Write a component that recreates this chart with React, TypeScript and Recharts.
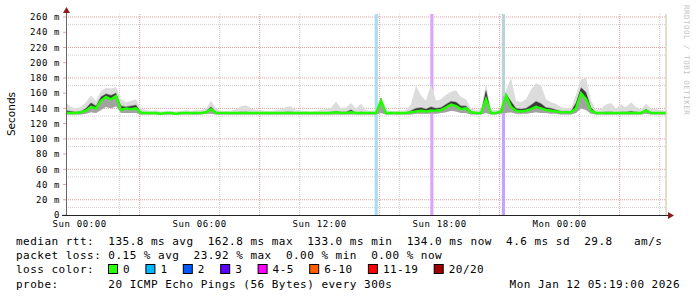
import {
  ComposedChart,
  Area,
  Line,
  XAxis,
  YAxis,
  CartesianGrid,
  ReferenceArea,
  ReferenceLine,
} from "recharts";

// time axis: hours relative to Sun 00:00, one sample every 15 min
const START_HOUR = -0.683;
const STEP_HOURS = 0.25;

const medianRtt = [
  134, 134, 134, 135, 137, 142, 140, 150, 155, 152, 156, 138, 140, 139, 140, 134, 134, 134, 134, 133,
  134, 134, 133, 134, 134, 134, 134, 134, 135, 139, 134, 134, 134, 134, 134, 134, 134, 134, 134, 134,
  134, 134, 134, 134, 134, 134, 134, 134, 134, 134, 134, 134, 134, 134, 135, 134, 134, 135, 134, 134,
  134, 134, 134, 150, 134, 134, 134, 134, 134, 135, 136, 137, 136, 137, 137, 138, 141, 145, 143, 139,
  140, 135, 134, 134, 152, 134, 134, 136, 157, 142, 137, 136, 137, 139, 142, 140, 138, 137, 136, 135,
  135, 135, 140, 160, 152, 137, 134, 134, 134, 134, 134, 134, 134, 134, 134, 134, 137, 134, 134, 134,
  134,
];

const pingMax = [
  148, 142, 140, 142, 148, 157, 150, 163, 167, 166, 168, 152, 148, 150, 152, 140, 138, 137, 138, 136,
  137, 137, 136, 137, 138, 137, 138, 138, 140, 150, 140, 137, 137, 137, 139, 143, 144, 140, 138, 138,
  137, 137, 138, 139, 142, 143, 138, 137, 137, 136, 137, 138, 139, 141, 149, 140, 141, 147, 140, 146,
  138, 137, 138, 156, 138, 137, 137, 137, 138, 145, 170, 157, 150, 172, 150, 152, 158, 162, 164, 155,
  152, 140, 138, 139, 172, 138, 138, 140, 164, 180, 150, 148, 152, 165, 173, 170, 152, 148, 146, 142,
  140, 140, 158, 178, 180, 150, 138, 140, 145, 147, 140, 145, 142, 148, 142, 139, 146, 140, 139, 138,
  137,
];

const pingUpper = [
  138, 137, 136, 137, 141, 148, 144, 156, 160, 158, 161, 144, 143, 144, 145, 136, 135, 135, 135, 134,
  135, 135, 134, 135, 135, 135, 135, 135, 137, 143, 136, 135, 135, 135, 135, 136, 136, 135, 135, 135,
  135, 135, 135, 135, 136, 136, 135, 135, 135, 135, 135, 135, 135, 136, 137, 136, 136, 139, 135, 136,
  135, 135, 135, 154, 135, 135, 135, 135, 135, 138, 141, 142, 140, 143, 141, 142, 146, 150, 149, 144,
  144, 137, 135, 135, 165, 135, 135, 138, 160, 150, 141, 140, 141, 145, 150, 147, 142, 141, 139, 137,
  137, 137, 148, 168, 162, 142, 135, 135, 136, 136, 135, 136, 136, 137, 136, 135, 140, 135, 135, 135,
  135,
];

const pingMin = [
  132, 132, 132, 132, 133, 135, 134, 138, 142, 140, 143, 134, 134, 134, 134, 132, 132, 132, 132, 132,
  132, 132, 132, 132, 132, 132, 132, 132, 133, 133, 132, 132, 132, 132, 132, 132, 132, 132, 132, 132,
  132, 132, 132, 132, 132, 132, 132, 132, 132, 132, 132, 132, 132, 132, 132, 132, 132, 132, 132, 132,
  132, 132, 132, 134, 132, 132, 132, 132, 132, 132, 133, 133, 133, 133, 133, 134, 135, 137, 136, 134,
  134, 132, 132, 132, 134, 132, 132, 133, 134, 135, 133, 133, 133, 134, 135, 134, 134, 133, 133, 132,
  132, 132, 134, 140, 138, 133, 132, 132, 132, 132, 132, 132, 132, 132, 132, 132, 133, 132, 132, 132,
  132,
];

// loss events (hour, lost pings out of 20, value range in ms)
const lossEvents = [
  { hour: 14.75, lost: 1, from: 0, to: 264 },
  { hour: 17.53, lost: 4, from: 0, to: 264 },
  { hour: 21.11, lost: 2, from: 157, to: 264 },
  { hour: 21.11, lost: 3, from: 0, to: 157 },
];

const yTicks = [0, 20, 40, 60, 80, 100, 120, 140, 160, 180, 200, 220, 240, 260];
const yMinorLines = [10, 30, 50, 70, 90, 110, 130, 150, 170, 190, 210, 230, 250];
const xLabelHours = [0, 6, 12, 18, 24];
const xMajorLines = [0, 3, 6, 9, 12, 15, 18, 21, 24, 27];
const xMinorLines = [
  1, 2, 4, 5, 7, 8, 10, 11, 13, 14, 16, 17, 19, 20, 22, 23, 25, 26, 28, 29,
];

const statsLines = [
  "median rtt:  135.8 ms avg  162.8 ms max  133.0 ms min  134.0 ms now  4.6 ms sd  29.8   am/s",
  "packet loss: 0.15 % avg  23.92 % max  0.00 % min  0.00 % now",
];
const lossLegend = ["0", "1", "2", "3", "4-5", "6-10", "11-19", "20/20"];
const lossColors = ["#26ff00", "#00b8ff", "#0059ff", "#5e00ff", "#ff00ff", "#ff5e00", "#ff0000", "#a00000"];
const lossBgByCount: Record<number, string> = {
  1: "#a8def3",
  2: "#bcd2d9",
  3: "#c3a6fb",
  4: "#dba6f7",
};
const probeText = "probe:       20 ICMP Echo Pings (56 Bytes) every 300s";
const stampText = "Mon Jan 12 05:19:00 2026";

const END_HOUR = START_HOUR + STEP_HOURS * (medianRtt.length - 1);

const data = medianRtt.map((m, i) => ({
  t: START_HOUR + i * STEP_HOURS,
  median: m,
  outer: [pingMin[i], pingMax[i]],
  inner: [pingMin[i], pingUpper[i]],
  core: [Math.min(m, pingUpper[i]) - 1, Math.max(m, pingUpper[i] - 1)],
}));

const MONO = "'DejaVu Sans Mono', monospace";

function hourLabel(h: number) {
  const day = h < 24 ? "Sun" : "Mon";
  const hh = String(h % 24).padStart(2, "0");
  return `${day} ${hh}:00`;
}

function Legend() {
  const cw = 7.1;
  let x = 108;
  const items = lossLegend.map((label, i) => {
    const sx = x;
    x = sx + 15 + label.length * cw + 15.3;
    return (
      <g key={label}>
        <rect x={sx + 0.5} y={264.5} width={9} height={9} fill={lossColors[i]} stroke="#000" />
        <text x={sx + 15} y={273} style={{ whiteSpace: "pre" }}>
          {label}
        </text>
      </g>
    );
  });
  return (
    <g fontFamily={MONO} fontSize={11} letterSpacing={0.48} fill="#000">
      <text x={16} y={245} style={{ whiteSpace: "pre" }}>{statsLines[0]}</text>
      <text x={16} y={259} style={{ whiteSpace: "pre" }}>{statsLines[1]}</text>
      <text x={16} y={273} style={{ whiteSpace: "pre" }}>loss color:</text>
      {items}
      <text x={16} y={288} style={{ whiteSpace: "pre" }}>{probeText}</text>
      <text x={680} y={288} textAnchor="end" style={{ whiteSpace: "pre" }}>{stampText}</text>
    </g>
  );
}

export default function App() {
  return (
    <div style={{ position: "relative", width: 697, height: 297, background: "#fff" }}>
      <style>{`body{margin:0}`}</style>
      <ComposedChart
        width={697}
        height={297}
        data={data}
        margin={{ top: 14, right: 31, bottom: 62, left: 0 }}
        style={{ position: "absolute", left: 0, top: 0 }}
      >
        <CartesianGrid
          horizontalValues={yMinorLines}
          verticalValues={xMinorLines}
          stroke="#cfcfcf"
          strokeDasharray="1 1"
        />
        <CartesianGrid
          horizontalValues={yTicks}
          verticalValues={xMajorLines}
          stroke="#dfa3a3"
          strokeDasharray="1 1"
        />
        <XAxis
          dataKey="t"
          type="number"
          domain={[START_HOUR, END_HOUR]}
          ticks={xLabelHours}
          tickFormatter={hourLabel}
          height={20}
          axisLine={false}
          tickLine={false}
          tickSize={0}
          tickMargin={6}
          tick={{ fontFamily: MONO, fontSize: 9, letterSpacing: 0.6, fill: "#000" }}
          allowDataOverflow
        />
        <YAxis
          type="number"
          domain={[0, 264]}
          ticks={yTicks}
          tickFormatter={(v: number) => (v === 0 ? "0" : `${v} m`)}
          width={66}
          axisLine={false}
          tickLine={{ stroke: "#dfa3a3" }}
          tickSize={3}
          tickMargin={3}
          tick={{ fontFamily: MONO, fontSize: 9, letterSpacing: 0.6, fill: "#000" }}
          allowDataOverflow
        />
        {lossEvents.map((e, i) => (
          <ReferenceArea
            key={i}
            x1={e.hour}
            x2={e.hour + 0.16}
            y1={e.from}
            y2={e.to}
            fill={lossBgByCount[e.lost]}
            fillOpacity={1}
            stroke="none"
            ifOverflow="hidden"
          />
        ))}
        <Area
          dataKey="outer"
          type="linear"
          stroke="none"
          fill="#dcdcdc"
          fillOpacity={1}
          isAnimationActive={false}
          dot={false}
          activeDot={false}
        />
        <Area
          dataKey="inner"
          type="linear"
          stroke="none"
          fill="#a2a2a2"
          fillOpacity={1}
          isAnimationActive={false}
          dot={false}
          activeDot={false}
        />
        <Area
          dataKey="core"
          type="linear"
          stroke="none"
          fill="#3a3a3a"
          fillOpacity={1}
          isAnimationActive={false}
          dot={false}
          activeDot={false}
        />
        <Line
          dataKey="median"
          type="linear"
          stroke="#22ff00"
          strokeWidth={2.5}
          dot={false}
          activeDot={false}
          isAnimationActive={false}
        />
        <ReferenceLine x={END_HOUR} stroke="#c9b99a" />
      </ComposedChart>
      <svg
        width={697}
        height={297}
        style={{ position: "absolute", left: 0, top: 0, pointerEvents: "none" }}
      >
        <line x1={66.5} y1={11} x2={66.5} y2={215} stroke="#666" />
        <line x1={62} y1={215.5} x2={669} y2={215.5} stroke="#222" />
        <polygon points="66.5,7 63,13 70,13" fill="#8e1b1b" />
        <polygon points="674,215.5 668,212 668,219" fill="#8e1b1b" />
        <text
          x={0}
          y={0}
          transform="translate(15,114) rotate(-90)"
          textAnchor="middle"
          fontFamily="'DejaVu Sans', sans-serif"
          fontSize={10.5}
          fill="#000"
        >
          Seconds
        </text>
        <text
          x={0}
          y={0}
          transform="translate(684,5) rotate(90)"
          fontFamily={MONO}
          fontSize={7.5}
          letterSpacing={0.5}
          fill="#c4c4c4"
        >
          RRDTOOL / TOBI OETIKER
        </text>
        <Legend />
      </svg>
    </div>
  );
}
